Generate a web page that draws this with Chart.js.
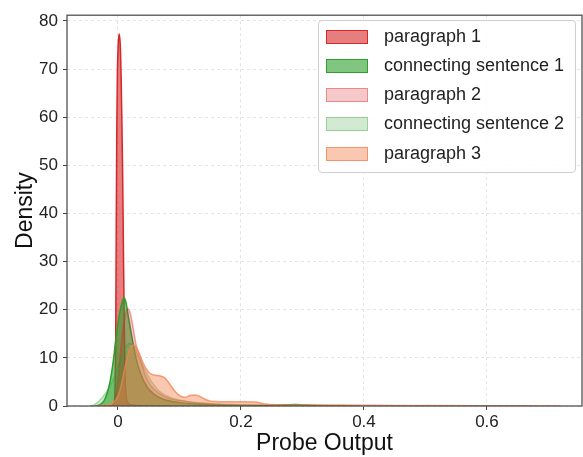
<!DOCTYPE html>
<html>
<head>
<meta charset="utf-8">
<script src="https://cdn.jsdelivr.net/npm/chart.js@4"></script>
<style>
  html, body { margin: 0; padding: 0; background: #fff; }
  #wrap { position: relative; width: 583px; height: 457px; }
  #c { position: absolute; left: 0; top: 0; }
  #legend { position: absolute; left: 318px; top: 20px; width: 256px; height: 151px;
    border: 1px solid #cfcfcf; border-radius: 4px; background: rgba(255,255,255,0.85);
    font-family: "Liberation Sans", Arial, sans-serif; font-size: 18px; color: #222; }
  .row { position: absolute; left: 0; height: 29px; width: 100%; }
  .patch { position: absolute; left: 7px; top: 7px; width: 40px; height: 12px; box-sizing: content-box; }
  .lab { position: absolute; left: 65px; top: 3px; line-height: 20px; white-space: nowrap; }
</style>
</head>
<body>
<div id="wrap">
  <canvas id="c" width="583" height="457"></canvas>
  <div id="legend"></div>
</div>
<script>
// ---- data ----
const seriesLabels = ["paragraph 1", "connecting sentence 1", "paragraph 2", "connecting sentence 2", "paragraph 3"];

const para1X = [-0.0098,-0.0065,-0.0049,-0.0037,-0.0029,-0.0021,-0.0011,0.0003,0.0020,0.0037,0.0052,0.0065,0.0076,0.0089,0.0101,0.0114,0.0130,0.0163,0.0228,0.0439,0.0846];
const para1Y = [0,0.5,3,15,35,55,68,75,77.3,75,68,58,48,32,18,7,2.5,0.7,0.2,0.05,0];

const conn1X = [-0.037,-0.029,-0.023,-0.018,-0.013,-0.008,-0.0033,0.0016,0.0065,0.0098,0.013,0.0163,0.021,0.0276,0.036,0.047,0.060,0.076,0.101,0.133,0.182,0.231,0.272,0.288,0.304,0.345,0.393];
const conn1Y = [0,0.3,1,2.5,5,9,14,18.5,21.5,22.5,21.5,19,15.5,11,7,4,2.3,1.3,0.7,0.35,0.15,0.1,0.25,0.3,0.2,0.05,0];

const para2X = [-0.013,-0.0065,-0.0033,0,0.0033,0.0065,0.0098,0.013,0.0163,0.0195,0.0244,0.029,0.036,0.044,0.052,0.068,0.085,0.109,0.133,0.166,0.215,0.296,0.377];
const para2Y = [0,0.5,2,5,10,14,17.5,19.5,20.2,19.5,16.5,13,10,6.5,4.5,2.5,1.5,1,0.6,0.3,0.15,0.05,0];

const conn2X = [-0.0455,-0.037,-0.029,-0.021,-0.013,-0.005,0.0033,0.0114,0.018,0.024,0.0325,0.044,0.055,0.068,0.085,0.109,0.133,0.182,0.247,0.328,0.393];
const conn2Y = [0,0.4,1.3,2.5,4.2,6.3,9.5,12,13,12.8,10.5,7.5,5,3,1.8,1,0.6,0.3,0.15,0.05,0];

const para3X = [-0.037,-0.021,-0.010,0,0.0065,0.013,0.0195,0.026,0.0325,0.039,0.0455,0.052,0.060,0.068,0.0765,0.0845,0.093,0.101,0.109,0.117,0.125,0.133,0.1415,0.150,0.166,0.198,0.223,0.239,0.263,0.296,0.361,0.400,0.459,0.524,0.621,0.686,0.719];
const para3Y = [0,0.2,0.5,2,5,9,12,12.7,11.5,9.5,7.8,6.8,6.4,6.3,5.8,4.5,3,2.1,1.8,2.2,2.3,2.0,1.4,1.0,0.9,0.9,0.85,0.4,0.25,0.2,0.2,0.15,0.1,0.1,0.05,0.02,0];

const xTickValues = [0, 0.2, 0.4, 0.6];
const yTickValues = [0, 10, 20, 30, 40, 50, 60, 70, 80];

// ---- styling ----
const fills = ["rgba(214,39,40,0.6)", "rgba(44,160,44,0.6)", "rgba(214,39,40,0.25)", "rgba(44,160,44,0.22)", "rgba(245,130,80,0.45)"];
const edges = ["#d62728", "#2ca02c", "rgba(214,39,40,0.4)", "rgba(44,160,44,0.35)", "rgba(245,130,80,0.75)"];
const FONT = "'Liberation Sans', Arial, sans-serif";

function pts(xs, ys) { return xs.map((x, i) => ({ x: x, y: ys[i] })); }
const allX = [para1X, conn1X, para2X, conn2X, para3X];
const allY = [para1Y, conn1Y, para2Y, conn2Y, para3Y];

const datasets = seriesLabels.map((lab, i) => ({
  label: lab,
  data: pts(allX[i], allY[i]),
  backgroundColor: fills[i],
  borderColor: edges[i],
  borderWidth: 1.5,
  fill: 'origin',
  pointRadius: 0,
  cubicInterpolationMode: 'monotone',
  order: seriesLabels.length - i
}));

const framePlugin = {
  id: 'frame',
  afterDraw(chart) {
    const a = chart.chartArea, ctx = chart.ctx;
    ctx.save();
    ctx.strokeStyle = '#444';
    ctx.lineWidth = 1.2;
    ctx.strokeRect(a.left, a.top, a.right - a.left, a.bottom - a.top);
    ctx.restore();
  }
};

new Chart(document.getElementById('c'), {
  type: 'line',
  data: { datasets },
  plugins: [framePlugin],
  options: {
    responsive: false,
    animation: false,
    layout: { padding: { left: 0, top: 9, right: 1, bottom: 0 } },
    plugins: { legend: { display: false }, tooltip: { enabled: false } },
    scales: {
      x: {
        type: 'linear',
        min: -0.0829, max: 0.7545,
        afterBuildTicks: s => { s.ticks = xTickValues.map(v => ({ value: v })); },
        afterFit: s => { s.height = 51; },
        ticks: { font: { family: FONT, size: 17 }, color: '#222', padding: 2, maxRotation: 0,
                 callback: v => String(v) },
        grid: { color: '#dddddd', lineWidth: 0.8, tickLength: 4, tickColor: '#444', tickWidth: 1, tickBorderDash: [] },
        border: { display: false, dash: [3, 3] },
        title: { display: true, text: 'Probe Output', font: { family: FONT, size: 23 }, color: '#111', padding: { top: 0, bottom: 0 } }
      },
      y: {
        type: 'linear',
        min: 0, max: 81.2,
        afterBuildTicks: s => { s.ticks = yTickValues.map(v => ({ value: v })); },
        afterFit: s => { s.width = 67; },
        ticks: { font: { family: FONT, size: 17 }, color: '#222', padding: 5, callback: v => String(v) },
        grid: { color: '#dddddd', lineWidth: 0.8, tickLength: 4, tickColor: '#444', tickWidth: 1, tickBorderDash: [] },
        border: { display: false, dash: [3, 3] },
        title: { display: true, text: 'Density', font: { family: FONT, size: 23 }, color: '#111', padding: { top: 12, bottom: 0 } }
      }
    }
  }
});

// HTML legend built from the datasets
const leg = document.getElementById('legend');
seriesLabels.forEach((lab, i) => {
  const row = document.createElement('div');
  row.className = 'row';
  row.style.top = (1.5 + i * 29.3) + 'px';
  const p = document.createElement('div');
  p.className = 'patch';
  p.style.background = fills[i];
  p.style.border = '1.5px solid ' + edges[i];
  const t = document.createElement('div');
  t.className = 'lab';
  t.textContent = lab;
  row.appendChild(p); row.appendChild(t);
  leg.appendChild(row);
});
</script>
</body>
</html>
